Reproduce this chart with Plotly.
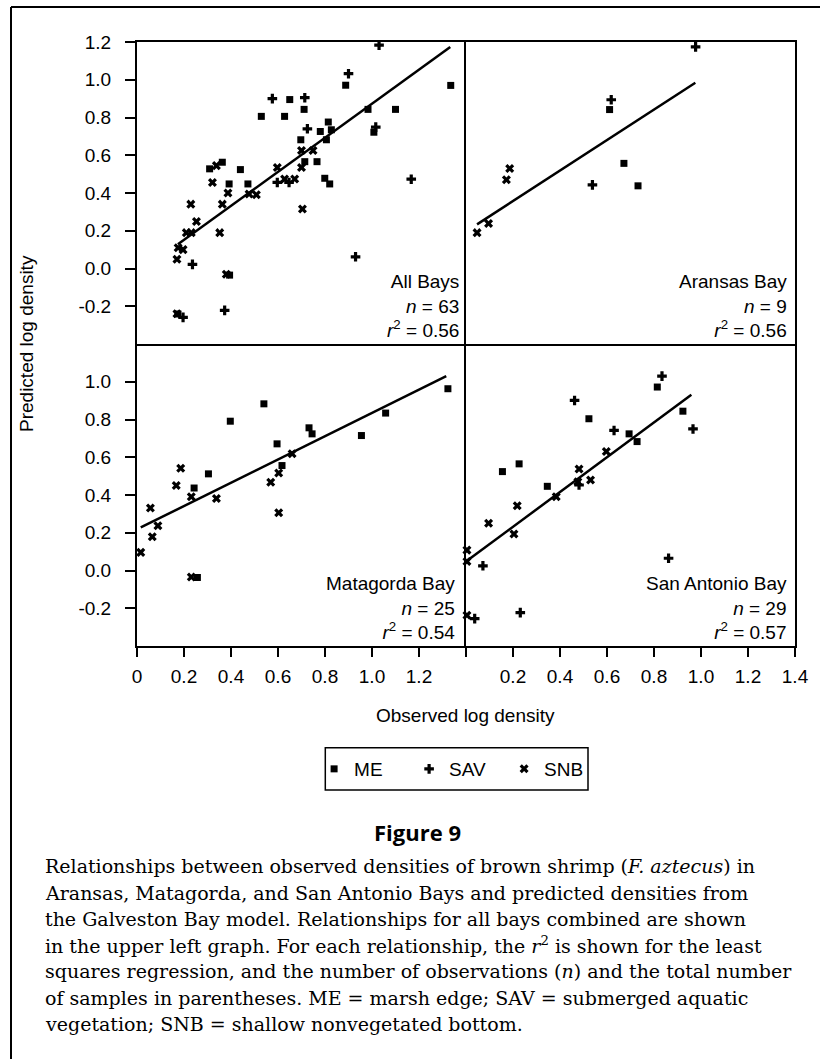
import plotly.graph_objects as go

# ---------------- data ----------------
# All Bays
all_me_x = [0.888, 1.335, 0.65, 0.711, 0.983, 1.10, 0.529, 0.628, 0.814, 0.78, 0.827, 1.008, 0.697,
            0.806, 0.714, 0.766, 0.363, 0.309, 0.44, 0.392, 0.472, 0.799, 0.82, 0.394, 0.174]
all_me_y = [0.971, 0.97, 0.895, 0.843, 0.843, 0.843, 0.806, 0.806, 0.776, 0.726, 0.735, 0.722, 0.682,
            0.682, 0.566, 0.566, 0.563, 0.528, 0.524, 0.448, 0.448, 0.478, 0.448, -0.035, -0.241]
all_sav_x = [1.03, 0.90, 0.576, 0.714, 0.725, 1.016, 0.597, 0.647, 1.167, 0.93, 0.236, 0.373, 0.196]
all_sav_y = [1.183, 1.032, 0.90, 0.905, 0.74, 0.749, 0.456, 0.456, 0.473, 0.062, 0.022, -0.222, -0.259]
all_snb_x = [0.338, 0.321, 0.387, 0.477, 0.508, 0.229, 0.363, 0.253, 0.21, 0.231, 0.352, 0.175, 0.196,
             0.17, 0.597, 0.70, 0.628, 0.671, 0.704, 0.70, 0.749, 0.38, 0.17]
all_snb_y = [0.545, 0.456, 0.40, 0.395, 0.391, 0.341, 0.341, 0.249, 0.19, 0.19, 0.19, 0.11, 0.10,
             0.049, 0.535, 0.535, 0.474, 0.474, 0.315, 0.625, 0.625, -0.031, -0.24]
all_fit_x = [0.174, 1.333]
all_fit_y = [0.128, 1.174]

# Aransas Bay
ara_me_x = [0.611, 0.672, 0.732]
ara_me_y = [0.842, 0.557, 0.438]
ara_sav_x = [0.977, 0.618, 0.538]
ara_sav_y = [1.174, 0.894, 0.443]
ara_snb_x = [0.186, 0.172, 0.096, 0.047]
ara_snb_y = [0.53, 0.47, 0.238, 0.19]
ara_fit_x = [0.047, 0.976]
ara_fit_y = [0.234, 0.984]

# Matagorda Bay
mat_me_x = [1.323, 0.54, 0.397, 1.058, 0.732, 0.745, 0.955, 0.596, 0.617, 0.304, 0.243, 0.257]
mat_me_y = [0.963, 0.883, 0.791, 0.834, 0.756, 0.724, 0.715, 0.671, 0.556, 0.512, 0.437, -0.037]
mat_sav_x = []
mat_sav_y = []
mat_snb_x = [0.66, 0.603, 0.569, 0.186, 0.167, 0.231, 0.338, 0.603, 0.057, 0.089, 0.065, 0.016, 0.231]
mat_snb_y = [0.618, 0.517, 0.467, 0.542, 0.45, 0.391, 0.382, 0.306, 0.331, 0.237, 0.179, 0.096, -0.034]
mat_fit_x = [0.016, 1.316]
mat_fit_y = [0.228, 1.03]

# San Antonio Bay
san_me_x = [0.814, 0.923, 0.523, 0.694, 0.728, 0.226, 0.155, 0.346]
san_me_y = [0.972, 0.844, 0.804, 0.724, 0.683, 0.565, 0.524, 0.446]
san_sav_x = [0.834, 0.462, 0.63, 0.966, 0.481, 0.862, 0.072, 0.231, 0.037]
san_sav_y = [1.03, 0.901, 0.742, 0.75, 0.453, 0.065, 0.025, -0.223, -0.255]
san_snb_x = [0.597, 0.481, 0.53, 0.476, 0.384, 0.218, 0.096, 0.204, 0.004, 0.004, 0.004]
san_snb_y = [0.63, 0.538, 0.48, 0.47, 0.391, 0.343, 0.25, 0.193, 0.108, 0.048, -0.237]
san_fit_x = [0.0085, 0.959]
san_fit_y = [0.055, 0.931]

panel_names = ["All Bays", "Aransas Bay", "Matagorda Bay", "San Antonio Bay"]
panel_n = ["63", "9", "25", "29"]
panel_r2 = ["0.56", "0.56", "0.54", "0.57"]

habitat_names = ["ME", "SAV", "SNB"]

x_range = [0, 1.4]
y_range = [-0.4, 1.2]
x_tick_vals_left = [0, 0.2, 0.4, 0.6, 0.8, 1.0, 1.2]
x_tick_text_left = ["0", "0.2", "0.4", "0.6", "0.8", "1.0", "1.2"]
x_tick_vals_right = [0.2, 0.4, 0.6, 0.8, 1.0, 1.2, 1.4]
x_tick_text_right = ["0.2", "0.4", "0.6", "0.8", "1.0", "1.2", "1.4"]
x_tick_unlabelled_right = [0]
y_tick_vals_top = [1.2, 1.0, 0.8, 0.6, 0.4, 0.2, 0.0, -0.2]
y_tick_text_top = ["1.2", "1.0", "0.8", "0.6", "0.4", "0.2", "0.0", "-0.2"]
y_tick_vals_bottom = [1.0, 0.8, 0.6, 0.4, 0.2, 0.0, -0.2]
y_tick_text_bottom = ["1.0", "0.8", "0.6", "0.4", "0.2", "0.0", "-0.2"]

caption_lines = [
    "Relationships between observed densities of brown shrimp (<i>F. aztecus</i>) in",
    "Aransas, Matagorda, and San Antonio Bays and predicted densities from",
    "the Galveston Bay model. Relationships for all bays combined are shown",
    "in the upper left graph. For each relationship, the <i>r</i><sup>2</sup> is shown for the least",
    "squares regression, and the number of observations (<i>n</i>) and the total number",
    "of samples in parentheses. ME = marsh edge; SAV = submerged aquatic",
    "vegetation; SNB = shallow nonvegetated bottom.",
]

# ---------------- geometry ----------------
W, H = 820, 1059
ML, MR, MT, MB = 137, 25, 42, 413
PW = W - ML - MR
PH = H - MT - MB


def px_x(px):
    return (px - ML) / PW


def px_y(py):
    return (H - MB - py) / PH


SANS = "Liberation Sans, Arial, Helvetica, sans-serif"
SERIF = "DejaVu Serif, serif"

fig = go.Figure()

panels = [
    ("x", "y", (all_me_x, all_me_y), (all_sav_x, all_sav_y), (all_snb_x, all_snb_y), (all_fit_x, all_fit_y)),
    ("x2", "y2", (ara_me_x, ara_me_y), (ara_sav_x, ara_sav_y), (ara_snb_x, ara_snb_y), (ara_fit_x, ara_fit_y)),
    ("x3", "y3", (mat_me_x, mat_me_y), (mat_sav_x, mat_sav_y), (mat_snb_x, mat_snb_y), (mat_fit_x, mat_fit_y)),
    ("x4", "y4", (san_me_x, san_me_y), (san_sav_x, san_sav_y), (san_snb_x, san_snb_y), (san_fit_x, san_fit_y)),
]

marker_styles = {
    "ME": dict(symbol="square", size=7, color="black", line=dict(width=0)),
    "SAV": dict(symbol="cross", size=8, color="black", line=dict(width=0)),
    "SNB": dict(symbol="x", size=8, color="black", line=dict(width=0)),
}

for i, (xa, ya, me, sav, snb, fit) in enumerate(panels):
    fig.add_trace(go.Scatter(x=fit[0], y=fit[1], mode="lines", xaxis=xa, yaxis=ya,
                             line=dict(color="black", width=2.5), showlegend=False,
                             hoverinfo="skip", cliponaxis=False))
    for hname, (hx, hy) in zip(habitat_names, [me, sav, snb]):
        fig.add_trace(go.Scatter(x=hx, y=hy, mode="markers", xaxis=xa, yaxis=ya, name=hname,
                                 legendgroup=hname, showlegend=(i == 0),
                                 marker=marker_styles[hname], cliponaxis=False))

axis_common = dict(showline=True, linecolor="black", linewidth=2, showgrid=False,
                   zeroline=False, tickcolor="black", tickwidth=2,
                   tickfont=dict(family=SANS, size=19, color="black"))

# every frame edge is drawn once: outer edges plus one copy of each divider
fig.update_layout(
    xaxis=dict(axis_common, mirror=True, domain=[0, 0.5], range=x_range, anchor="y",
               ticks="", showticklabels=False),
    yaxis=dict(axis_common, mirror=False, domain=[0.5, 1], range=y_range, anchor="x",
               ticks="outside", ticklen=10, tickvals=y_tick_vals_top, ticktext=y_tick_text_top,
               ticklabelstandoff=10),
    xaxis2=dict(axis_common, mirror=True, domain=[0.5, 1], range=x_range, anchor="y2",
                ticks="", showticklabels=False),
    yaxis2=dict(axis_common, mirror=True, domain=[0.5, 1], range=y_range, anchor="x2",
                ticks="", showticklabels=False),
    xaxis3=dict(axis_common, mirror=False, domain=[0, 0.5], range=x_range, anchor="y3",
                ticks="outside", ticklen=9, tickvals=x_tick_vals_left, ticktext=x_tick_text_left,
                ticklabelstandoff=3),
    yaxis3=dict(axis_common, mirror=False, domain=[0, 0.5], range=y_range, anchor="x3",
                ticks="outside", ticklen=10, tickvals=y_tick_vals_bottom,
                ticktext=y_tick_text_bottom, ticklabelstandoff=10),
    xaxis4=dict(axis_common, mirror=False, domain=[0.5, 1], range=x_range, anchor="y4",
                ticks="outside", ticklen=9, tickvals=x_tick_vals_right, ticktext=x_tick_text_right,
                ticklabelstandoff=3,
                minor=dict(tickvals=x_tick_unlabelled_right, ticks="outside", ticklen=9,
                           tickwidth=2, tickcolor="black", showgrid=False)),
    yaxis4=dict(axis_common, mirror=True, domain=[0, 0.5], range=y_range, anchor="x4",
                ticks="", showticklabels=False),
)

annotations = []
refs = [("x domain", "y domain", -5), ("x2 domain", "y2 domain", -6),
        ("x3 domain", "y3 domain", -9), ("x4 domain", "y4 domain", -6)]
for (xr, yr, xs), name, n, r2 in zip(refs, panel_names, panel_n, panel_r2):
    annotations.append(dict(
        xref=xr, yref=yr, x=1, y=0, xanchor="right", yanchor="bottom", xshift=xs, yshift=1,
        align="right", showarrow=False,
        text=f"{name}<br><i>n</i> = {n}<br><i>r</i><sup>2</sup> = {r2}",
        font=dict(family=SANS, size=19, color="black")))

annotations.append(dict(xref="paper", yref="paper", x=px_x(26), y=0.5, textangle=-90,
                        xanchor="center", yanchor="middle",
                        text="Predicted log density", showarrow=False,
                        font=dict(family=SANS, size=19, color="black")))
annotations.append(dict(xref="paper", yref="paper", x=px_x(465), y=px_y(715),
                        xanchor="center", yanchor="middle",
                        text="Observed log density", showarrow=False,
                        font=dict(family=SANS, size=19, color="black")))
annotations.append(dict(xref="paper", yref="paper", x=px_x(417), y=px_y(832),
                        xanchor="center", yanchor="middle",
                        text="<b>Figure 9</b>", showarrow=False,
                        font=dict(family="Open Sans, sans-serif", size=22, color="black")))

caption_baselines = [871.7, 898.3, 924.5, 950.7, 976.7, 1003.3, 1029.3]
for line, base in zip(caption_lines, caption_baselines):
    annotations.append(dict(xref="paper", yref="paper", x=px_x(42.7), y=px_y(base - 5.5),
                            xanchor="left", yanchor="middle", align="left", text=line,
                            showarrow=False,
                            font=dict(family=SERIF, size=19, color="black")))

shapes = [
    # legend frame
    dict(type="rect", xref="paper", yref="paper", x0=px_x(325.3), x1=px_x(588),
         y0=px_y(790), y1=px_y(747.7), line=dict(color="black", width=1.5)),
    # outer figure frame (left and top edges)
    dict(type="line", xref="paper", yref="paper", x0=px_x(11), x1=px_x(11),
         y0=px_y(7), y1=px_y(1075), line=dict(color="black", width=2)),
    dict(type="line", xref="paper", yref="paper", x0=px_x(11), x1=px_x(835),
         y0=px_y(7), y1=px_y(7), line=dict(color="black", width=2)),
]

fig.update_layout(
    width=W, height=H, autosize=False,
    margin=dict(l=ML, r=MR, t=MT, b=MB, pad=0),
    paper_bgcolor="white", plot_bgcolor="white",
    font=dict(family=SANS, size=19, color="black"),
    showlegend=True,
    legend=dict(orientation="h", x=px_x(456.6), xanchor="center", y=px_y(769), yanchor="middle",
                font=dict(family=SANS, size=19, color="black"), itemwidth=30,
                bgcolor="rgba(0,0,0,0)", borderwidth=0, traceorder="normal",
                entrywidth=50, entrywidthmode="pixels"),
    annotations=annotations,
    shapes=shapes,
)

fig.write_html("out.html")
